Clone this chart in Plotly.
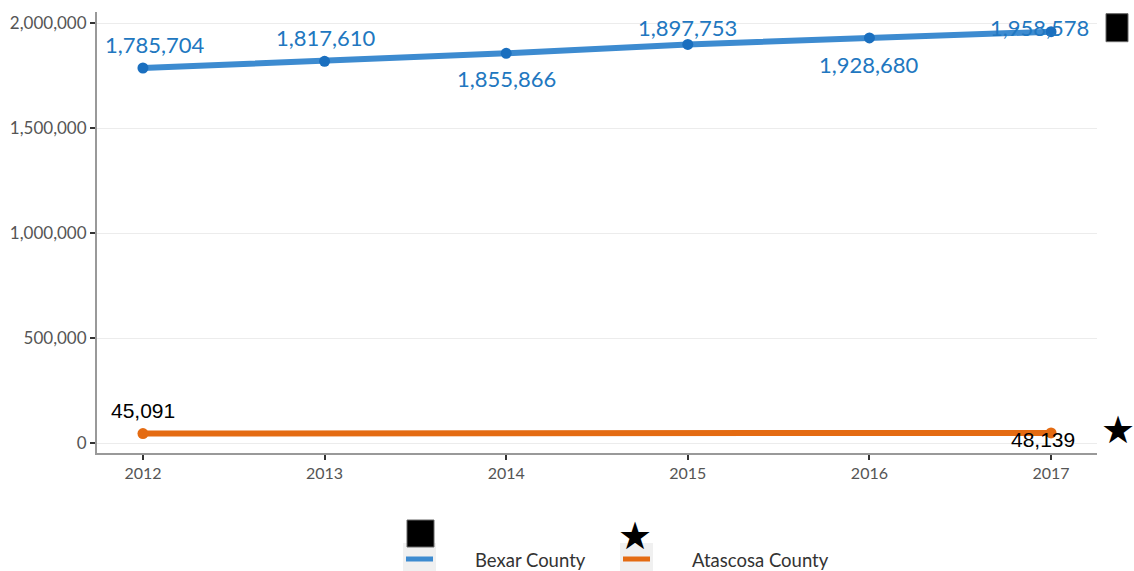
import plotly.graph_objects as go

years = [2012, 2013, 2014, 2015, 2016, 2017]
bexar = [1785704, 1817610, 1855866, 1897753, 1928680, 1958578]
atascosa = [45091, 45500, 46200, 46900, 47500, 48139]
series_names = ["Bexar County", "Atascosa County"]
y_ticks = [0, 500000, 1000000, 1500000, 2000000]

BLUE_LINE = "#3d8bd0"
BLUE_MARK = "#1a6fbf"
BLUE_TEXT = "#2177c0"
ORANGE = "#e46b12"

OFF = 0  # body margin removed via post_script
W, H = 1134, 571
pl, pt = 97, 12
pr = W - 1097
pb = H - 453
pw, ph = W - pl - pr, H - pt - pb
XR = [2011.747, 2017.253]
YR = [-47600, 2052400]


def px2paper(x, y):
    """screen pixel -> paper coords"""
    return (x - OFF - pl) / pw, (H - pb - (y - OFF)) / ph


def ypx(v):
    """value -> screen pixel y"""
    return OFF + pt + (YR[1] - v) / (YR[1] - YR[0]) * ph


fig = go.Figure()
fig.add_trace(go.Scatter(x=years, y=bexar, mode="lines", line=dict(color=BLUE_LINE, width=6),
                         showlegend=False, hoverinfo="skip"))
fig.add_trace(go.Scatter(x=years, y=bexar, mode="markers", marker=dict(color=BLUE_MARK, size=11),
                         showlegend=False, name=series_names[0]))
fig.add_trace(go.Scatter(x=years, y=atascosa, mode="lines", line=dict(color=ORANGE, width=6),
                         showlegend=False, hoverinfo="skip"))
fig.add_trace(go.Scatter(x=[years[0], years[-1]], y=[atascosa[0], atascosa[-1]], mode="markers",
                         marker=dict(color=ORANGE, size=11), showlegend=False, name=series_names[1],
                         cliponaxis=False))

annotations = []
shapes = []
shifts = [(12, 24), (1, 24), (0, -25), (0, 17), (0, -27), (-12, 4)]
for (x, y, (dx, dy)) in zip(years, bexar, shifts):
    annotations.append(dict(x=x, y=y, text=f"{y:,}", showarrow=False, xshift=dx, yshift=dy,
                            font=dict(family="Lato", size=22, color=BLUE_TEXT)))
annotations.append(dict(x=years[0], y=atascosa[0], text=f"{atascosa[0]:,}", showarrow=False,
                        xshift=0, yshift=23, font=dict(family="Liberation Sans", size=21, color="#000")))
annotations.append(dict(x=years[-1], y=atascosa[-1], text=f"{atascosa[-1]:,}", showarrow=False,
                        xshift=-8, yshift=-7, font=dict(family="Liberation Sans", size=21, color="#000")))

# end symbols outside plot (right)
cy = ypx(bexar[-1]) - 4
qx0, qy0 = px2paper(1106, cy + 14)
qx1, qy1 = px2paper(1128, cy - 14)
shapes.append(dict(type="rect", xref="paper", yref="paper", x0=qx0, y0=qy0, x1=qx1, y1=qy1,
                   fillcolor="#000", line=dict(color="#666", width=1)))
sx, _ = px2paper(1118, 0)
annotations.append(dict(xref="paper", yref="y", x=sx, y=atascosa[-1], text="★", showarrow=False,
                        xanchor="center", yanchor="middle", yshift=3,
                        font=dict(size=38, color="#000", family="DejaVu Sans")))

# custom legend
legend_items = [(series_names[0], BLUE_LINE, "■", 403, 473), (series_names[1], ORANGE, "★", 620, 690)]
for name, col, sym, bx, tx in legend_items:
    x0, y0 = px2paper(bx, 572)
    x1, y1 = px2paper(bx + 33, 543)
    shapes.append(dict(type="rect", xref="paper", yref="paper", x0=x0, y0=y0, x1=x1, y1=y1,
                       fillcolor="#f0f0f0", line=dict(width=0)))
    lx0, ly = px2paper(bx + 3, 559)
    lx1, _ = px2paper(bx + 30, 559)
    shapes.append(dict(type="line", xref="paper", yref="paper", x0=lx0, y0=ly, x1=lx1, y1=ly,
                       line=dict(color=col, width=5)))
    if sym == "■":
        qx0, qy0 = px2paper(bx + 4, 547)
        qx1, qy1 = px2paper(bx + 31, 520)
        shapes.append(dict(type="rect", xref="paper", yref="paper", x0=qx0, y0=qy0, x1=qx1, y1=qy1,
                           fillcolor="#000", line=dict(color="#666", width=1)))
    else:
        sxx, syy = px2paper(bx + 15, 536)
        annotations.append(dict(xref="paper", yref="paper", x=sxx, y=syy, text=sym, showarrow=False,
                                xanchor="center", yanchor="middle",
                                font=dict(size=38, color="#000", family="DejaVu Sans")))
    ttx, tty = px2paper(tx, 560)
    annotations.append(dict(xref="paper", yref="paper", x=ttx, y=tty, text=name, showarrow=False,
                            xanchor="left", yanchor="middle",
                            font=dict(family="Lato", size=18.5, color="#333")))

fig.update_layout(
    width=W, height=H,
    margin=dict(l=pl, r=pr, t=pt, b=pb, autoexpand=False),
    plot_bgcolor="white", paper_bgcolor="white",
    showlegend=False,
    annotations=annotations, shapes=shapes,
    xaxis=dict(range=XR, tickvals=years, ticktext=[str(y) for y in years],
               showgrid=False, showline=True, linecolor="#999", linewidth=2,
               ticks="outside", ticklen=5, tickcolor="#333", tickwidth=1.5,
               tickfont=dict(family="Lato", size=16, color="#555"), zeroline=False),
    yaxis=dict(range=YR, tickvals=y_ticks, tickformat=",",
               showgrid=True, gridcolor="#ececec", gridwidth=1,
               showline=True, linecolor="#999", linewidth=2,
               ticks="outside", ticklen=5, tickcolor="#333", tickwidth=1.5,
               tickfont=dict(family="Lato", size=17, color="#555"), zeroline=False),
)

fig.write_html("out.html", config={"displayModeBar": False},
               post_script="document.body.style.margin='0';document.body.style.overflow='hidden';")
